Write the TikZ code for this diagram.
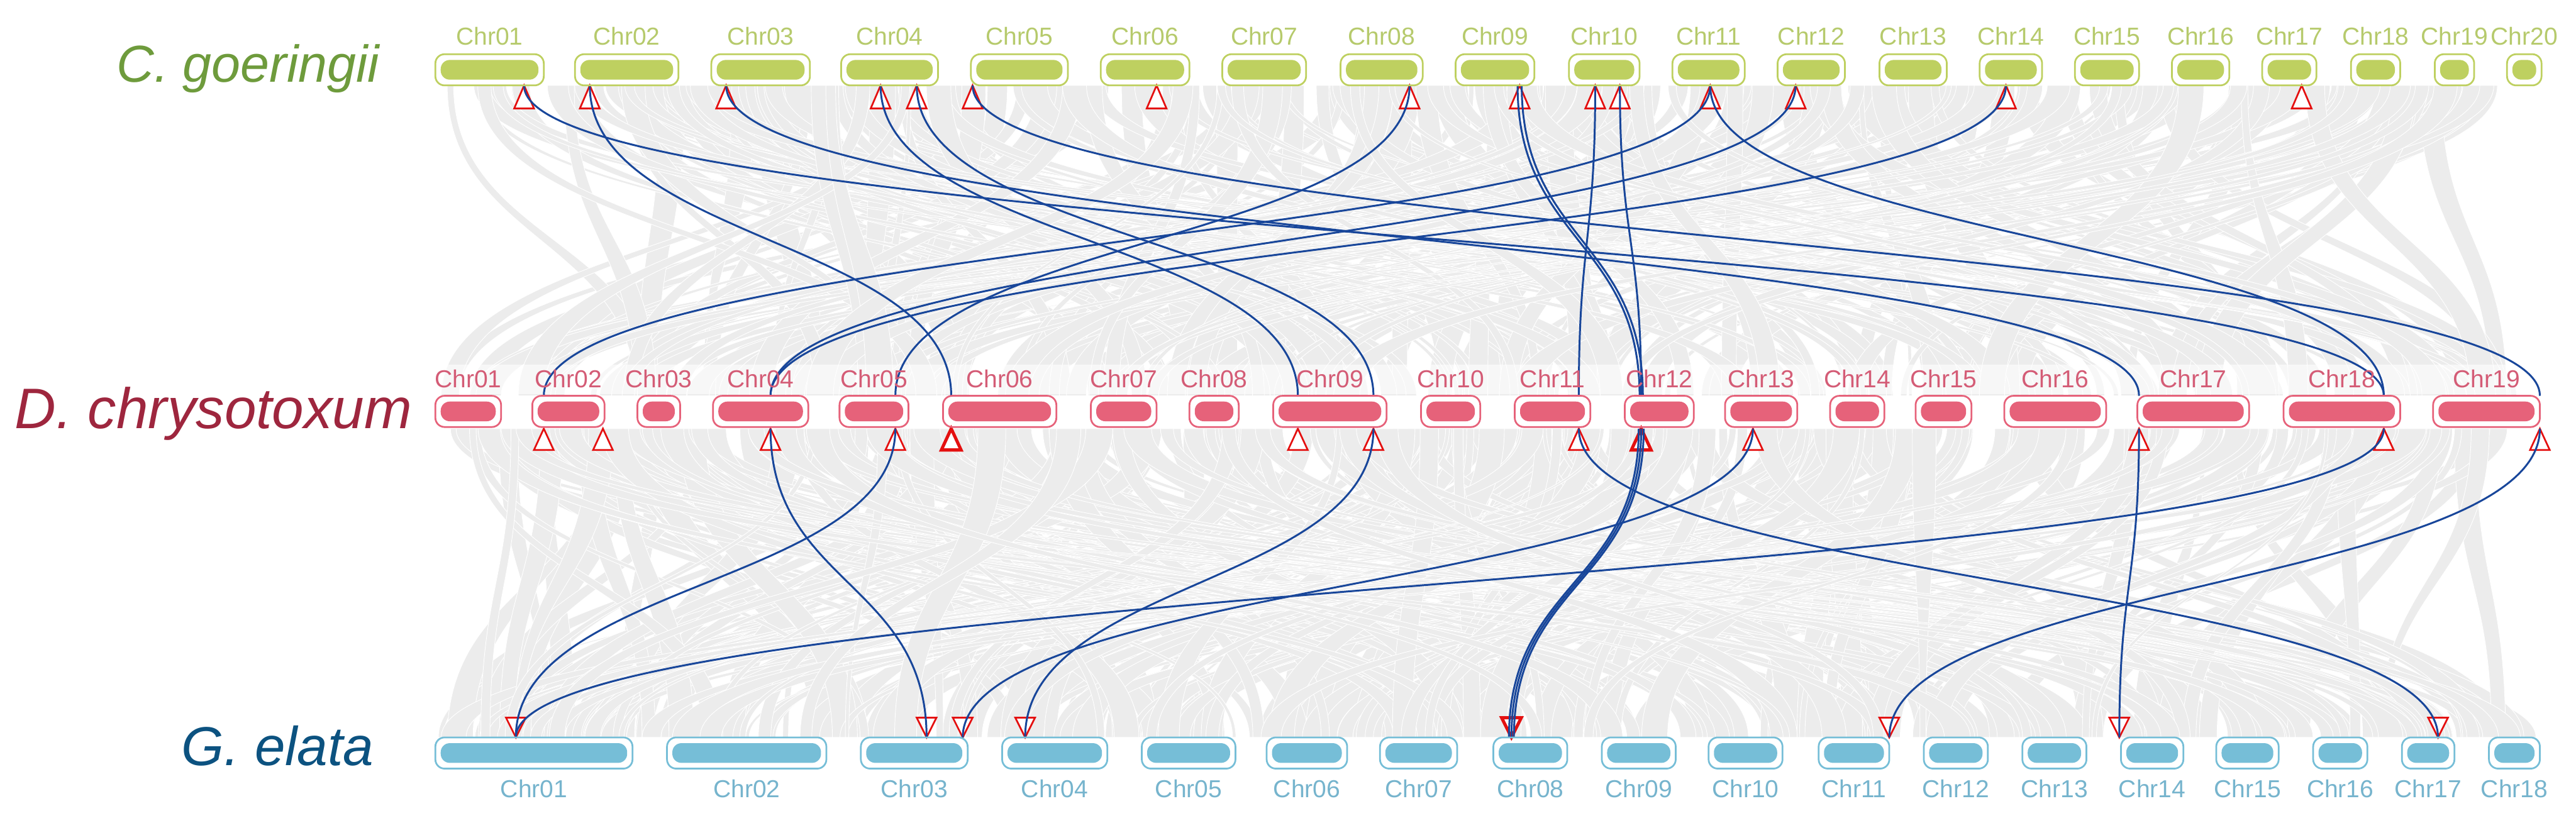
\documentclass[tikz,border=0pt]{standalone}
\usepackage{fontspec}
\setmainfont{Liberation Sans}
\usetikzlibrary{positioning,calc}
\definecolor{cgcol}{RGB}{190,208,96}
\definecolor{cgtxt}{RGB}{182,202,108}
\definecolor{cgsp}{RGB}{110,155,60}
\definecolor{dccol}{RGB}{230,98,122}
\definecolor{dctxt}{RGB}{212,92,118}
\definecolor{dcsp}{RGB}{158,38,62}
\definecolor{gecol}{RGB}{118,190,215}
\definecolor{getxt}{RGB}{118,180,205}
\definecolor{gesp}{RGB}{12,82,128}
\definecolor{linkblue}{RGB}{24,70,154}
\definecolor{trired}{RGB}{228,16,16}
\definecolor{ribfill}{RGB}{236,236,236}

\tikzset{
  chrbox/.style={draw=#1, line width=0.6pt, rounded corners=3.2pt,
    minimum height=3.8mm, inner sep=0pt,
    path picture={\fill[#1, rounded corners=1.1mm]
      ([shift={(0.65mm,-0.7mm)}]path picture bounding box.north west) rectangle
      ([shift={(-0.65mm,0.7mm)}]path picture bounding box.south east);}},
  chrlab/.style={font=\fontsize{8.5}{10}\selectfont, inner sep=0pt, text=#1},
  splab/.style={font=\fontsize{18}{21}\selectfont\itshape, inner sep=0pt,
    anchor=base, text=#1},
  tri/.style={draw=trired, fill=white, line width=0.6pt},
  tribold/.style={tri, line width=1.1pt},
  link/.style={draw=linkblue, line width=0.65pt,
    to path={.. controls +(0,94.5) and +(0,-94.5) .. (\tikztotarget)}},
  ribbon/.style={fill=ribfill, draw=white, line width=0.2pt},
}

\begin{document}
\begin{tikzpicture}[x=0.2mm, y=-0.2mm]
\useasboundingbox (0,0) rectangle (1568,504);
% 1 unit = 1 px of the 1568x504 layout; y grows downwards.
% Rows: C. goeringii (boxes 33-52), D. chrysotoxum (241-261),
% G. elata (449-468).

% Background syntenic blocks: light ribbons between the rows
\pgfmathsetseed{2024}
\foreach \k in {1,...,300}{
  \pgfmathsetmacro\ua{266+rnd*1265}
  \pgfmathsetmacro\la{266+rnd*1265}
  \pgfmathsetmacro\uw{2+rnd*15}
  \pgfmathsetmacro\lw{2+rnd*15}
  \path[ribbon] (\ua,52) .. controls +(0,94.5) and +(0,-94.5) .. (\la,241)
    -- ++(\lw,0) .. controls +(0,-94.5) and +(0,94.5) .. ({\ua+\uw},52) -- cycle;
}
\foreach \k in {1,...,380}{
  \pgfmathsetmacro\ua{266+rnd*1265}
  \pgfmathsetmacro\la{266+rnd*1265}
  \pgfmathsetmacro\uw{2+rnd*15}
  \pgfmathsetmacro\lw{2+rnd*15}
  \path[ribbon] (\ua,261) .. controls +(0,94) and +(0,-94) .. (\la,449)
    -- ++(\lw,0) .. controls +(0,-94) and +(0,94) .. ({\ua+\uw},261) -- cycle;
}
% light strip behind the middle labels
\fill[white, opacity=0.6] (262,222) rectangle (1552,240);

% Gene sites and their triangles
\foreach \n/\x in {01/319,02/359,03/442,04a/536,04b/558,05/592,06/704,08/858,
    09/925,10a/971,10b/986,11/1041,12/1093,14/1221,17/1401}{
  \coordinate (cg\n s) at (\x,52);
  \draw[tri] (cg\n s) -- ++(-6,14) -- ++(12,0) -- cycle;
}
\foreach \n/\x/\w in {02a/331/tri,02b/367/tri,04/469/tri,05/545/tri,06/579/tribold,
    09a/790/tri,09b/836/tri,11/961/tri,12/999/tribold,13/1067/tri,17/1302/tri,
    18/1451/tri,19/1546/tri}{
  \coordinate (dc\n u) at (\x,241);
  \coordinate (dc\n d) at (\x,261);
  \draw[\w] (dc\n d) -- ++(-6,13) -- ++(12,0) -- cycle;
}
\foreach \n/\x/\w in {01/314/tri,03a/564/tri,03b/586/tri,04/624/tri,08/920/tribold,
    11/1150/tri,14/1290/tri,17/1484/tri}{
  \coordinate (ge\n s) at (\x,449);
  \draw[\w] (ge\n s) -- ++(-6,-12) -- ++(12,0) -- cycle;
}

% Collinear gene pairs
\foreach \a/\b in {cg01s/dc18u,cg02s/dc06u,cg03s/dc17u,cg04as/dc09au,
    cg04bs/dc09bu,cg05s/dc19u,cg08s/dc05u,cg10as/dc11u,cg10bs/dc12u,
    cg11s/dc18u,cg11s/dc02au,cg12s/dc04u,cg14s/dc04u}
  \draw[link] (\a) to (\b);
\draw[link] ([xshift=-0.25mm]cg09s) to ([xshift=-0.2mm]dc12u);
\draw[link] ([xshift=0.25mm]cg09s) to ([xshift=0.2mm]dc12u);
\foreach \a/\b in {dc04d/ge03as,dc05d/ge01s,dc09bd/ge04s,dc13d/ge03bs,
    dc11d/ge17s,dc17d/ge14s,dc18d/ge01s,dc19d/ge11s}
  \draw[link] (\a) to (\b);
\foreach \d in {-0.3,0,0.3}
  \draw[link] ([xshift=\d mm]dc12d) to ([xshift=\d mm]ge08s);

% Chromosomes
\foreach \n/\a/\b in {01/265/331,02/350/413,03/433/493,04/512/571,05/591/650,
    06/670/724,07/744/795,08/816/866,09/886/934,10/955/998,11/1018/1062,
    12/1082/1123,13/1144/1185,14/1205/1243,15/1263/1302,16/1322/1357,
    17/1377/1410,18/1431/1461,19/1482/1506,20/1526/1547}{
  \node[chrbox=cgcol, minimum width={(\b-\a)*0.2mm}] (cg\n) at ({(\a+\b)/2},42.5) {};
  \node[chrlab=cgtxt, above=0.9mm of cg\n] (cgl\n) {Chr\n};
}
\foreach \n/\a/\b in {01/265/305,02/324/368,03/388/414,04/434/492,05/511/553,
    06/574/643,07/664/704,08/724/754,09/775/844,10/865/901,11/922/968,
    12/989/1031,13/1050/1094,14/1114/1147,15/1166/1200,16/1220/1282,
    17/1301/1369,18/1390/1461,19/1481/1546}{
  \node[chrbox=dccol, minimum width={(\b-\a)*0.2mm}] (dc\n) at ({(\a+\b)/2},250.5) {};
  \node[chrlab=dctxt, above=0.8mm of dc\n] (dcl\n) {Chr\n};
}
\foreach \n/\a/\b in {01/265/385,02/406/503,03/524/589,04/610/674,05/695/752,
    06/771/820,07/840/887,08/909/954,09/975/1020,10/1040/1085,11/1107/1150,
    12/1171/1210,13/1231/1270,14/1291/1329,15/1349/1387,16/1408/1441,
    17/1462/1494,18/1515/1546}{
  \node[chrbox=gecol, minimum width={(\b-\a)*0.2mm}] (ge\n) at ({(\a+\b)/2},458.5) {};
  \node[chrlab=getxt, below=1.2mm of ge\n] (gel\n) {Chr\n};
}

% Species names
\node[splab=cgsp] (cgname) at (151,50) {C. goeringii};
\node[splab=dcsp, font=\fontsize{19.8}{23}\selectfont\itshape] (dcname) at (130,261) {D. chrysotoxum};
\node[splab=gesp, font=\fontsize{19}{22}\selectfont\itshape] (gename) at (169,466) {G. elata};
\end{tikzpicture}
\end{document}
